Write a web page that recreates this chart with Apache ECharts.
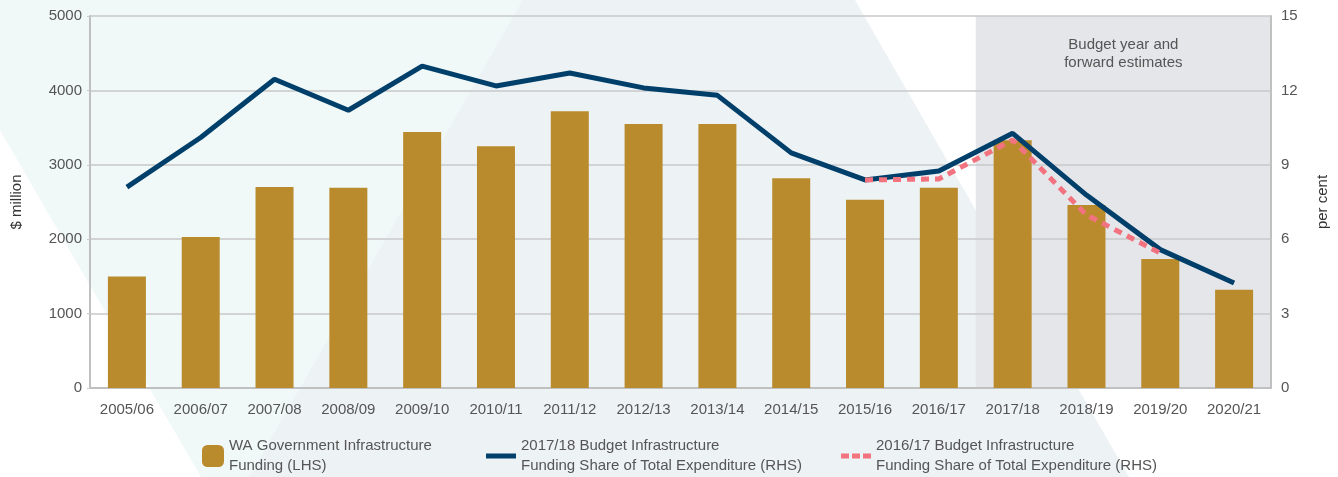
<!DOCTYPE html>
<html>
<head>
<meta charset="utf-8">
<script src="https://cdn.jsdelivr.net/npm/echarts@6/dist/echarts.min.js"></script>
<style>
  html, body { margin: 0; padding: 0; background: #fff; }
  #chart { width: 1338px; height: 477px; }
</style>
</head>
<body>
<div id="chart"></div>
<script>
// data
const years = ['2005/06', '2006/07', '2007/08', '2008/09', '2009/10', '2010/11', '2011/12', '2012/13',
  '2013/14', '2014/15', '2015/16', '2016/17', '2017/18', '2018/19', '2019/20', '2020/21'];
const funding = [1500, 2030, 2700, 2690, 3440, 3250, 3720, 3550, 3550, 2820, 2530, 2690, 3330, 2460, 1735, 1320];
const share1718 = [8.1, 10.1, 12.45, 11.2, 12.98, 12.18, 12.7, 12.1, 11.8, 9.48, 8.39, 8.75, 10.27, 7.78, 5.58, 4.23];
const share1617 = [null, null, null, null, null, null, null, null, null, null, 8.39, 8.43, 10.0, 6.98, 5.44, null];
const leftTicks = {min: 0, max: 5000, interval: 1000};
const rightTicks = {min: 0, max: 15, interval: 3};
const forwardStart = 12; // index of 2017/18
const forwardLabel = 'Budget year and\nforward estimates';

const nameBar = 'WA Government Infrastructure\nFunding (LHS)';
const nameNavy = '2017/18 Budget Infrastructure\nFunding Share of Total Expenditure (RHS)';
const namePink = '2016/17 Budget Infrastructure\nFunding Share of Total Expenditure (RHS)';

const txt = '#555';
const font = 'Liberation Sans, Arial, sans-serif';

const chart = echarts.init(document.getElementById('chart'));

// legend text sits with its first line beside the icon
function legendAt(name, left, w, h, icon) {
  return {
    data: [name], left: left, top: 421, itemWidth: w, itemHeight: h, icon: icon,
    textStyle: {fontSize: 15, color: txt, fontFamily: font, lineHeight: 20, padding: [20, 0, 0, 0]}
  };
}

const option = {
  backgroundColor: '#fff',
  animation: false,
  textStyle: {fontFamily: font},
  graphic: [
    {type: 'polygon', z: -10, silent: true,
      shape: {points: [[0, 0], [530, 0], [250, 477], [201, 477], [0, 130]]},
      style: {fill: '#f0f8f8'}},
    {type: 'polygon', z: -9, silent: true,
      shape: {points: [[523, 0], [855, 0], [1129, 477], [249, 477]]},
      style: {fill: '#edf2f5'}}
  ],
  grid: {left: 90, right: 64, top: 16, bottom: 89},
  legend: [
    legendAt(nameBar, 197, 22, 22, 'roundRect'),
    legendAt(nameNavy, 481, 30, 5, 'rect'),
    legendAt(namePink, 836, 30, 5, 'path://M0,0h8v5h-8zM11,0h8v5h-8zM22,0h8v5h-8z')
  ],
  xAxis: [{
    type: 'category', data: years,
    axisLine: {lineStyle: {color: '#c0c0c0', width: 2}},
    axisTick: {show: false},
    axisLabel: {color: txt, fontSize: 15, margin: 14}
  }, {
    type: 'value', min: 0, max: years.length, show: false
  }],
  yAxis: [{
    type: 'value', min: leftTicks.min, max: leftTicks.max, interval: leftTicks.interval,
    name: '$ million', nameLocation: 'middle', nameGap: 66, nameRotate: 90,
    nameTextStyle: {color: '#333', fontSize: 15},
    axisLine: {show: true, lineStyle: {color: '#c0c0c0', width: 2}},
    axisTick: {show: true, length: 3, lineStyle: {color: '#c8c8c8'}},
    axisLabel: {color: txt, fontSize: 15, margin: 8, formatter: v => String(v)},
    splitLine: {lineStyle: {color: '#c8c8c8', width: 1.5}}
  }, {
    type: 'value', min: rightTicks.min, max: rightTicks.max, interval: rightTicks.interval,
    name: 'per cent', nameLocation: 'middle', nameGap: 44, nameRotate: 90,
    nameTextStyle: {color: '#333', fontSize: 15},
    axisLine: {show: true, lineStyle: {color: '#c0c0c0', width: 2}},
    axisTick: {show: false},
    axisLabel: {color: txt, fontSize: 15, margin: 10},
    splitLine: {show: false}
  }],
  series: [{
    name: 'forward', type: 'line', xAxisIndex: 1, yAxisIndex: 0,
    data: [[0, 0]], symbol: 'none', lineStyle: {opacity: 0}, silent: true,
    markArea: {
      z: -1, silent: true,
      itemStyle: {color: '#e4e6e9'},
      label: {show: true, position: 'insideTop', distance: 20, color: txt, fontSize: 15, lineHeight: 18},
      data: [[{xAxis: forwardStart, name: forwardLabel}, {xAxis: years.length}]]
    }
  }, {
    name: nameBar, type: 'bar', data: funding, barWidth: 38,
    itemStyle: {color: '#b98b2d'}, z: 2
  }, {
    name: nameNavy, type: 'line', yAxisIndex: 1, data: share1718,
    symbol: 'none', color: '#013f6b', lineStyle: {width: 5, color: '#013f6b'}, z: 3
  }, {
    name: namePink, type: 'line', yAxisIndex: 1, data: share1617,
    symbol: 'none', color: '#f2737f', lineStyle: {width: 5, color: '#f2737f', type: [8, 6]}, z: 4
  }]
};

chart.setOption(option);
</script>
</body>
</html>
